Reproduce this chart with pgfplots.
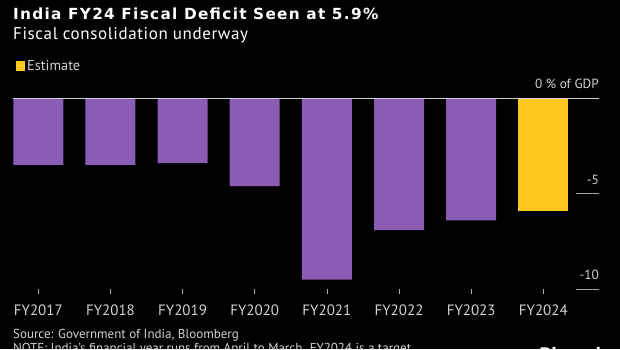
\documentclass[border=0pt]{standalone}
\usepackage{pgfplots}
\pgfplotsset{compat=1.18}
\usepackage{fontspec}
\setmainfont{PT Sans}
\newfontfamily\titlefont{DejaVu Sans Bold}[LetterSpace=8.5]
\newfontfamily\logofont{DejaVu Sans Bold}
\newfontfamily\subfont{PT Sans}[LetterSpace=3.5]
\definecolor{barpurple}{HTML}{8A5CB4}
\definecolor{baryellow}{HTML}{FFC91F}
\definecolor{lbl}{HTML}{D2D2D2}
\begin{document}
\begin{tikzpicture}[x=1pt,y=1pt]
\fill[black] (0,0) rectangle (620,349);
\clip (0,0) rectangle (620,349);
\node[anchor=base west, inner sep=0pt, text=white, font=\fontsize{15.3}{16}\titlefont] at (13,330) {India FY24 Fiscal Deficit Seen at 5.9\%};
\node[anchor=base west, inner sep=0pt, text=white, font=\fontsize{17}{18}\subfont] at (13,309.7) {Fiscal consolidation underway};
\node[anchor=base west, inner sep=0pt, text=lbl, font=\fontsize{13}{14}\selectfont] at (13,11) {Source: Government of India, Bloomberg};
\node[anchor=base west, inner sep=0pt, text=lbl, font=\fontsize{13}{14}\selectfont] at (13,-3.3) {NOTE: India's financial year runs from April to March. FY2024 is a target.};
\node[anchor=base west, inner sep=0pt, text=white, font=\fontsize{16}{18}\logofont] at (539,-10.3) {Bloomberg};
\begin{axis}[
  at={(13pt,59.7pt)}, anchor=south west,
  scale only axis, width=586pt, height=191.3pt,
  xmin=-0.3507, xmax=7.772, ymin=-10, ymax=0,
  clip=false,
  axis line style={draw=none},
  ybar, bar width=50pt,
  xtick={0,1,2,3,4,5,6,7},
  xticklabels={FY2017,FY2018,FY2019,FY2020,FY2021,FY2022,FY2023,FY2024},
  xtick pos=left, xtick align=outside,
  major tick length=5pt,
  xtick style={draw=lbl!80!black, line width=0.6pt},
  xticklabel style={text=lbl, font=\fontsize{15}{16}\selectfont, yshift=-6.5pt},
  ytick={-10,-5,0},
  yticklabels={-10,-5,0 \% of GDP},
  yticklabel pos=right, ytick pos=right,
  ytick style={draw=none},
  yticklabel style={text=lbl, font=\fontsize{13.3}{14}\selectfont, anchor=south east, inner sep=0pt, yshift=9pt},
  legend style={at={(0,1)}, anchor=west, xshift=2.7pt, yshift=32pt, draw=none, fill=none, inner sep=0pt, text=lbl, font=\fontsize{14.3}{15}\selectfont},
  legend cell align=left,
]
\addplot[draw=none, fill=barpurple, bar shift=0pt, forget plot] coordinates {
 (0,-3.5) (1,-3.5) (2,-3.4) (3,-4.6) (4,-9.5) (5,-6.9) (6,-6.4)};
\addplot[draw=none, fill=baryellow, bar shift=0pt,
  legend image code/.code={\fill[baryellow] (0pt,-4.6pt) rectangle (9.3pt,4.6pt);}] coordinates {
 (7,-5.9)};
\addlegendentry{Estimate}
\draw[lbl, line width=0.8pt] (axis cs:-0.3507,0) -- (axis cs:7.772,0);
\draw[lbl!80!black, line width=0.8pt] (axis cs:7.453,-5) -- (axis cs:7.772,-5);
\draw[lbl!80!black, line width=0.8pt] (axis cs:7.453,-10) -- (axis cs:7.772,-10);
\end{axis}
\end{tikzpicture}
\end{document}
